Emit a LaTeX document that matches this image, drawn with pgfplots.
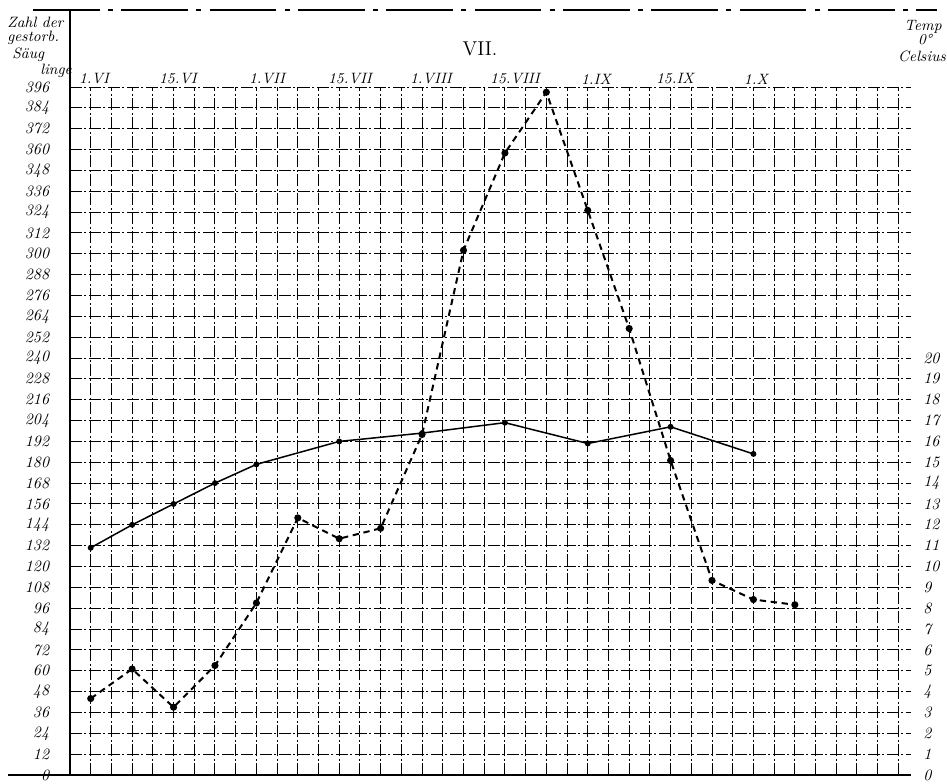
\documentclass[border=0pt]{standalone}
\usepackage{pgfplots}
\pgfplotsset{compat=1.18}
\begin{document}
\begin{tikzpicture}[x=0.6pt,y=0.6pt]
\path[use as bounding box] (-70,-8) rectangle (877,775);
\pgfplotsset{
  gridaxis/.style={
    at={(0,0)}, anchor=origin,
    width=504.5pt, height=412.8pt, scale only axis,
    xmin=0, xmax=40.6,
    major tick length=0pt,
    clip=false,
    /pgf/number format/assume math mode=true,
  }
}
\begin{axis}[gridaxis,
  ymin=0, ymax=396,
  axis x line*=bottom, axis y line*=left,
  xtick={0,...,40}, xticklabels={},
  ytick={0,12,...,396},
  grid=major,
  grid style={black, line width=0.6pt, dash pattern=on 7pt off 1.6pt on 1.2pt off 1.6pt},
  yticklabel style={font=\fontsize{9.5}{9.5}\selectfont\itshape, xshift=-9pt},
  axis line style={line width=0.9pt},
]
\addplot[black, line width=1.2pt, dash pattern=on 3.8pt off 2.8pt,
  mark=*, mark size=1.5pt, mark options={solid}] coordinates {
  (1,44) (3,61) (5,39) (7,63) (9,99) (11,148) (13,136) (15,142)
  (17,196) (19,302) (21,358) (23,393) (25,325) (27,257) (29,181)
  (31,112) (33,101) (35,98)
};
\end{axis}
\begin{axis}[gridaxis,
  ymin=0, ymax=33,
  hide x axis,
  axis y line*=right,
  axis line style={draw=none},
  ytick={0,...,20},
  yticklabel style={font=\fontsize{9.5}{9.5}\selectfont\itshape, xshift=4pt},
]
\addplot[black, line width=0.9pt, mark=*, mark size=1.3pt] coordinates {
  (1,10.9) (3,12.0) (5,13.0) (7,14.0) (9,14.9) (13,16.0) (17,16.4)
  (21,16.9) (25,15.9) (29,16.7) (33,15.4)
};
\end{axis}
% frame of the header
\draw[line width=0.8pt, dash pattern=on 40pt off 5pt on 3pt off 5pt] (-37,765) -- (867,765);
\draw[line width=0.8pt] (0,688) -- (0,765);
\draw[line width=0.9pt] (-62,0) -- (0,0);
% header texts
\begin{scope}[every node/.style={font=\fontsize{9}{9}\selectfont\itshape, inner sep=0pt}]
\node[anchor=west] at (-63,753) {Zahl der};
\node[anchor=west] at (-63,737) {gestorb.};
\node[anchor=west] at (-58,720) {Säug};
\node[anchor=west] at (-30,704) {linge};
\node at (853,748) {Temp};
\node at (855,735) {0°};
\node at (852,719) {Celsius};
\node at (24,696) {1.VI};
\node at (108,696) {15.VI};
\node at (197,696) {1.VII};
\node at (280,696) {15.VII};
\node at (361,696) {1.VIII};
\node at (445,696) {15.VIII};
\node at (526,696) {1.IX};
\node at (605,696) {15.IX};
\node at (686,696) {1.X};
\end{scope}
\node[font=\fontsize{12}{12}\selectfont] at (410,726) {VII.};
\end{tikzpicture}
\end{document}
